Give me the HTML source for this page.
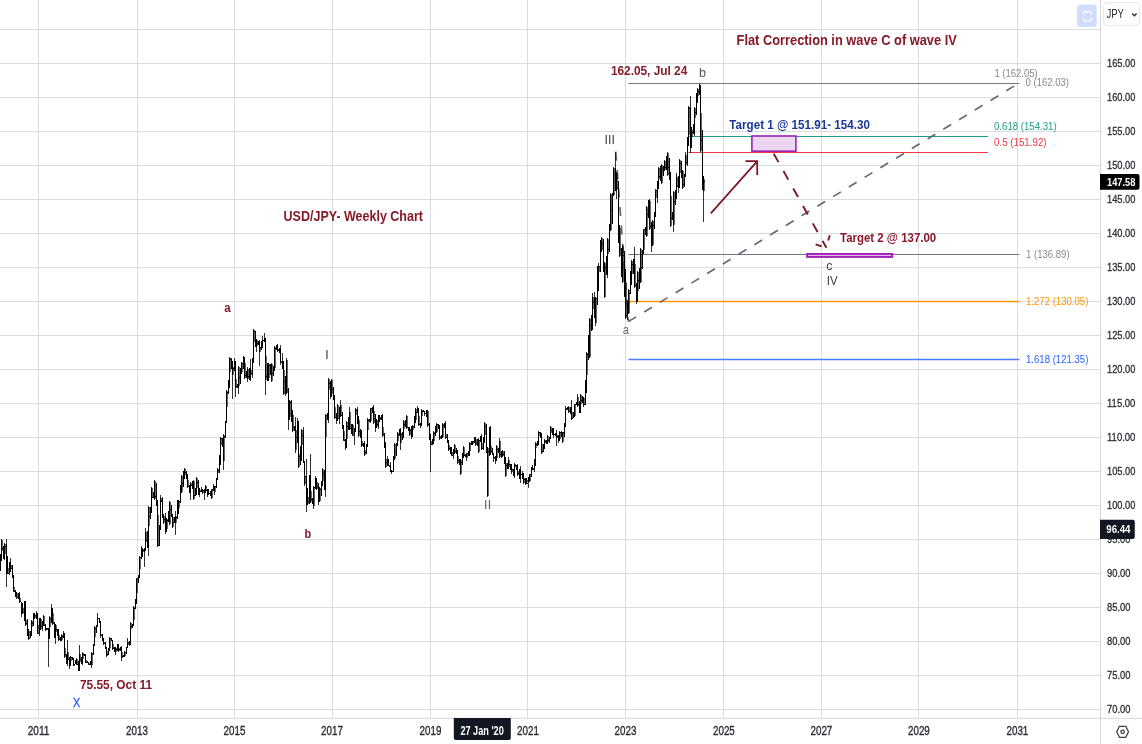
<!DOCTYPE html>
<html><head><meta charset="utf-8"><title>USD/JPY Weekly Chart</title>
<style>
html,body{margin:0;padding:0;background:#fff;}
body{width:1142px;height:744px;overflow:hidden;font-family:"Liberation Sans",sans-serif;}
svg{display:block;font-family:"Liberation Sans",sans-serif;will-change:transform;transform:translateZ(0);}
</style></head><body>
<svg width="1142" height="744" viewBox="0 0 1142 744">
<g>
<path d="M0 29.5H1100.5M0 63.5H1100.5M0 97.5H1100.5M0 131.5H1100.5M0 165.5H1100.5M0 199.5H1100.5M0 233.5H1100.5M0 267.5H1100.5M0 301.5H1100.5M0 335.5H1100.5M0 369.5H1100.5M0 403.5H1100.5M0 437.5H1100.5M0 471.5H1100.5M0 505.5H1100.5M0 539.5H1100.5M0 573.5H1100.5M0 607.5H1100.5M0 641.5H1100.5M0 675.5H1100.5M0 709.5H1100.5M38.5 0V718.3M137.5 0V718.3M234.5 0V718.3M332.5 0V718.3M430.5 0V718.3M527.5 0V718.3M625.5 0V718.3M723.5 0V718.3M821.5 0V718.3M918.5 0V718.3M1017.5 0V718.3" stroke="#dcdde2" stroke-width="1" fill="none"/>
<path d="M628.5 83.5H1019.5" stroke="#646778" stroke-width="0.9" fill="none"/>
<path d="M688.5 136.5H988" stroke="#1f9c88" stroke-width="1.0" fill="none"/>
<path d="M688.5 152.5H988" stroke="#f23645" stroke-width="1.0" fill="none"/>
<path d="M628.5 254.5H1019.5" stroke="#646778" stroke-width="0.9" fill="none"/>
<path d="M628.5 301.5H1019.5" stroke="#ff9800" stroke-width="1.3" fill="none"/>
<path d="M628.5 359.5H1019.5" stroke="#4a7dff" stroke-width="1.5" fill="none"/>
<path d="M615.8 151.6L628.5 321.7" stroke="#666978" stroke-width="1.7" stroke-dasharray="9.1 9.4" fill="none"/>
<path d="M628.4 321.6L1019.5 82.8" stroke="#666978" stroke-width="1.7" stroke-dasharray="9.1 9.35" fill="none"/>
<path d="M-0.5 570V573M2.5 540V551M5.5 544V554M8.5 568V573M11.5 565V569M14.5 587V591M17.5 593V597M20.5 598V602M23.5 608V613M26.5 620V625M29.5 631V639M32.5 621V627M35.5 616V618M38.5 625V633M41.5 619V629M44.5 616V625M47.5 629V630M50.5 617V627M53.5 613V624M56.5 625V632M59.5 635V640M62.5 635V640M65.5 648V657M68.5 652V660M71.5 657V661M74.5 665V666M77.5 659V664M80.5 654V662M83.5 653V659M86.5 660V662M89.5 663V664M92.5 653V665M95.5 627V637M98.5 618V619M101.5 634V635M104.5 642V644M107.5 651V656M110.5 638V648M113.5 644V649M116.5 648V652M119.5 648V651M122.5 652V658M125.5 652V656M128.5 642V645M131.5 623V629M134.5 607V620M137.5 579V593M140.5 557V569M143.5 549V552M146.5 532V542M149.5 507V526M152.5 488V498M155.5 481V499M158.5 515V546M161.5 498V502M164.5 516V523M167.5 519V529M170.5 502V524M173.5 517V527M176.5 516V523M179.5 501V508M182.5 476V492M185.5 469V475M188.5 480V487M191.5 483V486M194.5 481V499M197.5 478V488M200.5 490V491M203.5 490V493M206.5 486V491M209.5 493V494M212.5 490V498M215.5 487V492M218.5 469V473M221.5 438V445M224.5 435V461M227.5 391V407M230.5 358V372M233.5 367V375M236.5 379V388M239.5 367V386M242.5 363V372M245.5 363V378M248.5 369V379M251.5 370V375M254.5 330V342M257.5 340V346M260.5 348V352M263.5 340V341M266.5 356V380M269.5 364V378M272.5 364V381M275.5 347V368M278.5 349V351M281.5 361V362M284.5 370V394M287.5 360V393M290.5 401V417M293.5 415V431M296.5 430V450M299.5 454V467M302.5 430V445M305.5 476V484M308.5 497V504M311.5 491V502M314.5 487V506M317.5 482V489M320.5 488V501M323.5 469V481M326.5 415V437M329.5 379V390M332.5 380V394M335.5 407V418M338.5 405V419M341.5 405V416M344.5 431V440M347.5 422V439M350.5 412V429M353.5 425V435M356.5 409V415M359.5 420V436M362.5 441V446M365.5 450V455M368.5 419V430M371.5 409V421M374.5 411V423M377.5 420V427M380.5 417V420M383.5 427V436M386.5 459V467M389.5 465V466M392.5 471V472M395.5 444V459M398.5 433V441M401.5 433V443M404.5 421V429M407.5 416V428M410.5 429V435M413.5 426V430M416.5 409V420M419.5 416V425M422.5 410V416M425.5 413V414M428.5 411V426M431.5 441V445M434.5 432V441M437.5 424V432M440.5 436V439M443.5 424V437M446.5 434V438M449.5 445V450M452.5 452V455M455.5 445V453M458.5 456V463M461.5 460V474M464.5 447V455M467.5 454V458M470.5 443V451M473.5 442V444M476.5 439V445M479.5 441V452M482.5 443V449M485.5 423V435M488.5 448V496M491.5 446V453M494.5 458V459M497.5 446V458M500.5 441V457M503.5 451V456M506.5 463V476M509.5 460V467M512.5 470V472M515.5 464V467M518.5 471V475M521.5 474V475M524.5 478V483M527.5 480V482M530.5 475V481M533.5 468V469M536.5 443V448M539.5 432V436M542.5 444V453M545.5 440V443M548.5 436V442M551.5 427V433M554.5 434V435M557.5 435V438M560.5 432V439M563.5 433V442M566.5 409V410M569.5 407V412M572.5 412V419M575.5 405V416M578.5 397V406M581.5 395V404M584.5 398V405M587.5 353V375M590.5 319V357M593.5 297V309M596.5 298V323M599.5 266V272M602.5 238V250M605.5 263V297M608.5 239V254M611.5 194V230M614.5 168V195M617.5 173V188M620.5 228V256M623.5 246V282M626.5 283V318M629.5 290V313M632.5 261V274M635.5 264V287M638.5 272V291M641.5 249V282M644.5 230V250M647.5 207V236M650.5 201V229M653.5 221V245M656.5 191V198M659.5 168V179M662.5 165V183M665.5 161V170M668.5 153V175M671.5 196V226M674.5 192V225M677.5 177V187M680.5 160V173M683.5 171V188M686.5 155V165M689.5 107V135M692.5 130V137M695.5 108V118M698.5 89V96M701.5 113V151M704.5 179V191" stroke="#000" stroke-opacity="0.6" stroke-width="1.0" fill="none"/>
<path d="M-1.5 569V570M-1.5 573V574M1.5 539V540M4.5 543V544M4.5 559V560M6.5 539V544M6.5 574V587M9.5 573V575M10.5 558V562M13.5 591V592M16.5 597V599M19.5 592V593M19.5 602V603M21.5 614V617M24.5 601V602M25.5 625V626M27.5 619V620M28.5 639V640M31.5 620V621M36.5 611V613M37.5 633V634M39.5 633V636M42.5 629V631M43.5 615V616M45.5 630V631M48.5 639V667M49.5 616V617M51.5 604V608M52.5 624V625M55.5 638V644M58.5 640V641M61.5 634V635M63.5 631V633M64.5 657V658M67.5 640V652M67.5 664V666M69.5 666V669M70.5 656V657M76.5 658V659M76.5 664V665M79.5 645V654M82.5 652V653M82.5 664V665M85.5 662V663M88.5 664V665M91.5 652V653M91.5 665V668M94.5 626V627M97.5 613V618M100.5 635V638M103.5 644V645M106.5 656V657M109.5 637V638M112.5 649V650M115.5 652V655M118.5 651V652M121.5 646V647M121.5 658V661M124.5 651V652M127.5 638V642M129.5 645V646M130.5 622V623M133.5 606V607M136.5 578V579M139.5 556V557M141.5 546V548M144.5 552V567M145.5 528V532M148.5 506V507M148.5 548V556M151.5 487V488M154.5 480V481M154.5 499V500M157.5 546V547M160.5 495V498M162.5 497V498M163.5 523V524M165.5 513V516M165.5 532V534M169.5 501V502M169.5 524V525M172.5 527V528M175.5 511V516M175.5 523V535M181.5 475V476M184.5 468V469M187.5 487V488M190.5 482V483M190.5 493V500M193.5 480V481M193.5 499V500M196.5 477V478M199.5 495V497M201.5 487V489M202.5 493V494M204.5 493V500M205.5 485V486M207.5 495V497M211.5 489V490M211.5 498V499M213.5 484V486M214.5 492V495M217.5 468V469M220.5 437V438M223.5 434V435M223.5 461V470M226.5 390V391M229.5 357V358M232.5 375V399M234.5 358V361M235.5 388V397M238.5 366V367M238.5 388V394M241.5 362V363M243.5 356V357M244.5 378V379M247.5 367V369M247.5 379V382M250.5 359V368M250.5 380V381M252.5 375V378M253.5 329V330M256.5 347V352M259.5 340V341M259.5 352V366M262.5 336V340M264.5 333V338M265.5 380V395M271.5 363V364M271.5 381V382M274.5 346V347M277.5 344V345M277.5 351V352M280.5 345V348M280.5 362V365M282.5 353V361M283.5 394V395M285.5 394V396M286.5 358V360M288.5 420V430M291.5 400V401M292.5 431V432M295.5 417V426M295.5 450V453M297.5 418V421M298.5 467V468M301.5 429V430M303.5 427V430M304.5 484V486M306.5 459V476M306.5 505V512M310.5 454V475M313.5 486V487M313.5 506V509M315.5 476V478M316.5 489V490M318.5 502V505M322.5 468V469M325.5 414V415M325.5 490V497M328.5 378V379M328.5 420V423M330.5 397V399M331.5 379V380M334.5 418V419M336.5 421V424M337.5 404V405M339.5 419V424M340.5 400V405M343.5 440V441M345.5 448V450M346.5 421V422M349.5 407V412M352.5 435V436M354.5 435V445M355.5 408V409M357.5 407V409M358.5 436V437M361.5 446V447M364.5 441V443M364.5 455V456M367.5 418V419M370.5 408V409M370.5 422V423M373.5 405V407M373.5 423V424M375.5 428V432M378.5 427V429M382.5 414V415M382.5 436V437M385.5 467V468M387.5 456V459M390.5 462V465M391.5 472V474M394.5 443V444M397.5 432V433M400.5 428V429M400.5 443V450M403.5 420V421M406.5 415V416M406.5 428V429M409.5 435V436M411.5 437V439M412.5 425V426M415.5 408V409M417.5 406V408M418.5 425V426M420.5 426V428M421.5 409V410M424.5 414V416M427.5 426V427M430.5 445V472M433.5 431V432M436.5 423V424M439.5 439V440M442.5 423V424M445.5 421V423M445.5 438V439M448.5 450V451M451.5 455V456M453.5 455V459M454.5 444V445M457.5 463V464M460.5 474V475M463.5 446V447M466.5 453V454M466.5 458V461M469.5 442V443M475.5 445V446M478.5 438V439M478.5 452V453M481.5 434V436M481.5 449V450M483.5 449V450M484.5 422V423M487.5 496V497M490.5 426V427M493.5 459V462M495.5 461V464M496.5 445V446M499.5 438V441M499.5 457V458M501.5 457V458M502.5 450V451M505.5 476V477M508.5 457V460M511.5 472V474M514.5 463V464M514.5 476V478M517.5 464V465M517.5 475V476M520.5 466V469M520.5 479V483M522.5 471V473M523.5 483V484M525.5 484V485M528.5 482V488M529.5 474V475M532.5 465V467M534.5 469V472M535.5 442V443M538.5 431V432M541.5 453V454M544.5 439V440M547.5 435V436M549.5 442V443M550.5 426V427M553.5 435V438M556.5 430V433M556.5 438V446M558.5 441V443M559.5 431V432M561.5 431V432M562.5 442V443M565.5 406V409M568.5 406V407M568.5 412V413M571.5 400V407M571.5 419V420M574.5 404V405M577.5 394V397M577.5 406V407M580.5 394V395M580.5 412V413M583.5 405V407M586.5 352V353M589.5 318V319M592.5 293V297M594.5 292V297M595.5 323V326M598.5 263V266M601.5 237V238M604.5 297V298M607.5 238V239M607.5 275V278M610.5 193V194M613.5 167V168M615.5 152V168M616.5 191V199M619.5 256V257M622.5 245V246M622.5 282V283M625.5 318V319M627.5 318V320M628.5 289V290M631.5 260V261M634.5 247V259M634.5 287V288M636.5 302V304M637.5 271V272M640.5 248V249M643.5 229V230M646.5 206V207M646.5 236V237M649.5 199V200M649.5 229V230M651.5 246V252M652.5 220V221M655.5 189V191M657.5 198V203M658.5 167V168M661.5 164V165M661.5 183V184M664.5 160V161M667.5 152V153M667.5 175V176M670.5 226V227M673.5 191V192M673.5 225V232M676.5 173V177M678.5 188V193M679.5 159V160M682.5 188V189M685.5 152V155M687.5 165V166M688.5 106V107M690.5 96V107M690.5 148V153M694.5 107V108M694.5 134V136M697.5 88V89M699.5 84V85M700.5 151V152M703.5 191V222" stroke="#000" stroke-opacity="0.8" stroke-width="1.0" fill="none"/>
<path d="M-1.5 570V573M-3.0 569.5h1M-1.0 569.5h1M0.5 554V571M-1.0 569.5h1M1.0 556.5h1M1.5 540V561M0.0 556.5h1M2.0 548.5h1M3.5 546V559M2.0 548.5h1M4.0 558.5h1M4.5 544V559M3.0 558.5h1M5.0 546.5h1M6.5 544V574M5.0 546.5h1M7.0 562.5h1M7.5 556V574M6.0 562.5h1M8.0 573.5h1M9.5 562V573M8.0 573.5h1M10.0 569.5h1M10.5 562V572M9.0 569.5h1M11.0 568.5h1M12.5 565V578M11.0 568.5h1M13.0 575.5h1M13.5 575V591M12.0 575.5h1M14.0 591.5h1M15.5 590V597M14.0 591.5h1M16.0 596.5h1M16.5 592V597M15.0 596.5h1M17.0 597.5h1M18.5 593V599M17.0 597.5h1M19.0 597.5h1M19.5 593V602M18.0 597.5h1M20.0 601.5h1M21.5 602V614M20.0 601.5h1M22.0 605.5h1M22.5 603V614M21.0 605.5h1M23.0 612.5h1M24.5 602V621M23.0 612.5h1M25.0 601.5h1M25.5 602V625M24.0 601.5h1M26.0 623.5h1M27.5 620V636M26.0 623.5h1M28.0 631.5h1M28.5 629V639M27.0 631.5h1M29.0 638.5h1M30.5 631V638M29.0 638.5h1M31.0 632.5h1M31.5 621V636M30.0 632.5h1M32.0 623.5h1M33.5 613V626M32.0 623.5h1M34.0 613.5h1M34.5 613V619M33.0 613.5h1M35.0 615.5h1M36.5 613V619M35.0 615.5h1M37.0 614.5h1M37.5 613V633M36.0 614.5h1M38.0 633.5h1M39.5 618V633M38.0 633.5h1M40.0 620.5h1M40.5 618V630M39.0 620.5h1M41.0 626.5h1M42.5 621V629M41.0 626.5h1M43.0 621.5h1M43.5 616V626M42.0 621.5h1M44.0 625.5h1M45.5 624V630M44.0 625.5h1M46.0 629.5h1M46.5 628V630M45.0 629.5h1M47.0 628.5h1M48.5 628V639M47.0 628.5h1M49.0 637.5h1M49.5 617V639M48.0 637.5h1M50.0 619.5h1M51.5 608V623M50.0 619.5h1M52.0 608.5h1M52.5 608V624M51.0 608.5h1M53.0 623.5h1M54.5 622V638M53.0 623.5h1M55.0 633.5h1M55.5 624V638M54.0 633.5h1M56.0 629.5h1M57.5 629V636M56.0 629.5h1M58.0 634.5h1M58.5 629V640M57.0 634.5h1M59.0 639.5h1M60.5 637V641M59.0 639.5h1M61.0 639.5h1M61.5 635V641M60.0 639.5h1M62.0 636.5h1M63.5 633V638M62.0 636.5h1M64.0 637.5h1M64.5 633V657M63.0 637.5h1M65.0 654.5h1M66.5 654V664M65.0 654.5h1M67.0 662.5h1M67.5 652V664M66.0 662.5h1M68.0 659.5h1M69.5 657V666M68.0 659.5h1M70.0 665.5h1M70.5 657V666M69.0 665.5h1M71.0 657.5h1M72.5 657V660M71.0 657.5h1M73.0 659.5h1M73.5 658V666M72.0 659.5h1M74.0 664.5h1M75.5 660V664M74.0 664.5h1M76.0 661.5h1M76.5 659V664M75.0 661.5h1M77.0 664.5h1M78.5 661V671M77.0 664.5h1M79.0 669.5h1M79.5 654V671M78.0 669.5h1M80.0 659.5h1M81.5 657V664M80.0 659.5h1M82.0 662.5h1M82.5 653V664M81.0 662.5h1M83.0 654.5h1M84.5 654V656M83.0 654.5h1M85.0 655.5h1M85.5 654V662M84.0 655.5h1M86.0 662.5h1M87.5 661V663M86.0 662.5h1M88.0 662.5h1M88.5 662V664M87.0 662.5h1M89.0 664.5h1M90.5 661V665M89.0 664.5h1M91.0 663.5h1M91.5 653V665M90.0 663.5h1M92.0 653.5h1M93.5 644V655M92.0 653.5h1M94.0 644.5h1M94.5 627V646M93.0 644.5h1M95.0 628.5h1M96.5 625V633M95.0 628.5h1M97.0 625.5h1M97.5 618V627M96.0 625.5h1M98.0 618.5h1M99.5 618V623M98.0 618.5h1M100.0 622.5h1M100.5 621V635M99.0 622.5h1M101.0 635.5h1M102.5 634V641M101.0 635.5h1M103.0 639.5h1M103.5 638V644M102.0 639.5h1M104.0 643.5h1M105.5 642V649M104.0 643.5h1M106.0 648.5h1M106.5 647V656M105.0 648.5h1M107.0 654.5h1M108.5 648V655M107.0 654.5h1M109.0 649.5h1M109.5 638V651M108.0 649.5h1M110.0 638.5h1M111.5 638V641M110.0 638.5h1M112.0 640.5h1M112.5 640V649M111.0 640.5h1M113.0 648.5h1M114.5 647V652M113.0 648.5h1M115.0 651.5h1M115.5 647V652M114.0 651.5h1M116.0 649.5h1M117.5 644V651M116.0 649.5h1M118.0 644.5h1M118.5 644V651M117.0 644.5h1M119.0 649.5h1M120.5 647V651M119.0 649.5h1M121.0 648.5h1M121.5 647V658M120.0 648.5h1M122.0 656.5h1M123.5 655V657M122.0 656.5h1M124.0 655.5h1M124.5 652V657M123.0 655.5h1M125.0 652.5h1M126.5 647V654M125.0 652.5h1M127.0 647.5h1M127.5 642V648M126.0 647.5h1M128.0 642.5h1M129.5 641V645M128.0 642.5h1M130.0 644.5h1M130.5 623V645M129.0 644.5h1M131.0 626.5h1M132.5 624V628M131.0 626.5h1M133.0 624.5h1M133.5 607V626M132.0 624.5h1M134.0 608.5h1M135.5 599V609M134.0 608.5h1M136.0 600.5h1M136.5 579V604M135.0 600.5h1M137.0 578.5h1M138.5 575V583M137.0 578.5h1M139.0 576.5h1M139.5 557V578M138.0 576.5h1M140.0 557.5h1M141.5 548V559M140.0 557.5h1M142.0 554.5h1M142.5 548V557M141.0 554.5h1M143.0 550.5h1M144.5 549V552M143.0 550.5h1M145.0 548.5h1M145.5 532V551M144.0 548.5h1M146.0 540.5h1M147.5 531V548M146.0 540.5h1M148.0 544.5h1M148.5 507V548M147.0 544.5h1M149.0 516.5h1M150.5 507V519M149.0 516.5h1M151.0 509.5h1M151.5 488V513M150.0 509.5h1M152.0 497.5h1M153.5 492V498M152.0 497.5h1M154.0 494.5h1M154.5 481V499M153.0 494.5h1M155.0 496.5h1M156.5 483V506M155.0 496.5h1M157.0 501.5h1M157.5 500V546M156.0 501.5h1M158.0 545.5h1M159.5 525V546M158.0 545.5h1M160.0 526.5h1M160.5 498V530M159.0 526.5h1M161.0 501.5h1M162.5 498V518M161.0 501.5h1M163.0 515.5h1M163.5 514V523M162.0 515.5h1M164.0 519.5h1M165.5 516V532M164.0 519.5h1M166.0 531.5h1M166.5 518V532M165.0 531.5h1M167.0 520.5h1M168.5 511V522M167.0 520.5h1M169.0 517.5h1M169.5 502V524M168.0 517.5h1M170.0 509.5h1M171.5 505V517M170.0 509.5h1M172.0 515.5h1M172.5 514V527M171.0 515.5h1M173.0 522.5h1M174.5 517V523M173.0 522.5h1M175.0 519.5h1M175.5 516V523M174.0 519.5h1M176.0 517.5h1M177.5 500V519M176.0 517.5h1M178.0 506.5h1M178.5 500V514M177.0 506.5h1M179.0 501.5h1M180.5 485V503M179.0 501.5h1M181.0 488.5h1M181.5 476V493M180.0 488.5h1M182.0 483.5h1M183.5 471V487M182.0 483.5h1M184.0 474.5h1M184.5 469V479M183.0 474.5h1M185.0 472.5h1M186.5 471V479M185.0 472.5h1M187.0 477.5h1M187.5 474V487M186.0 477.5h1M188.0 486.5h1M189.5 485V493M188.0 486.5h1M190.0 491.5h1M190.5 483V493M189.0 491.5h1M191.0 485.5h1M192.5 481V489M191.0 485.5h1M193.0 482.5h1M193.5 481V499M192.0 482.5h1M194.0 495.5h1M195.5 488V496M194.0 495.5h1M196.0 492.5h1M196.5 478V495M195.0 492.5h1M197.0 482.5h1M198.5 480V495M197.0 482.5h1M199.0 494.5h1M199.5 488V495M198.0 494.5h1M200.0 491.5h1M201.5 489V492M200.0 491.5h1M202.0 490.5h1M202.5 489V493M201.0 490.5h1M203.0 490.5h1M204.5 489V493M203.0 490.5h1M205.0 492.5h1M205.5 486V493M204.0 492.5h1M206.0 490.5h1M207.5 489V495M206.0 490.5h1M208.0 492.5h1M208.5 489V495M207.0 492.5h1M209.0 493.5h1M210.5 491V496M209.0 493.5h1M211.0 495.5h1M211.5 490V498M210.0 495.5h1M212.0 489.5h1M213.5 486V491M212.0 489.5h1M214.0 487.5h1M214.5 486V492M213.0 487.5h1M215.0 486.5h1M216.5 478V488M215.0 486.5h1M217.0 478.5h1M217.5 469V480M216.0 478.5h1M218.0 470.5h1M219.5 455V473M218.0 470.5h1M220.0 460.5h1M220.5 438V465M219.0 460.5h1M221.0 438.5h1M222.5 438V447M221.0 438.5h1M223.0 446.5h1M223.5 435V461M222.0 446.5h1M224.0 436.5h1M225.5 421V438M224.0 436.5h1M226.0 421.5h1M226.5 391V423M225.0 421.5h1M227.0 392.5h1M228.5 380V394M227.0 392.5h1M229.0 384.5h1M229.5 358V388M228.0 384.5h1M230.0 359.5h1M231.5 358V369M230.0 359.5h1M232.0 365.5h1M232.5 361V375M231.0 365.5h1M233.0 368.5h1M234.5 361V371M233.0 368.5h1M235.0 365.5h1M235.5 361V388M234.0 365.5h1M236.0 386.5h1M237.5 384V388M236.0 386.5h1M238.0 386.5h1M238.5 367V388M237.0 386.5h1M239.0 377.5h1M240.5 368V384M239.0 377.5h1M241.0 371.5h1M241.5 363V374M240.0 371.5h1M242.0 363.5h1M243.5 357V369M242.0 363.5h1M244.0 359.5h1M244.5 357V378M243.0 359.5h1M245.0 375.5h1M246.5 371V378M245.0 375.5h1M247.0 374.5h1M247.5 369V379M246.0 374.5h1M248.0 376.5h1M249.5 368V380M248.0 376.5h1M250.0 371.5h1M250.5 368V380M249.0 371.5h1M251.0 373.5h1M252.5 358V375M251.0 373.5h1M253.0 358.5h1M253.5 330V363M252.0 358.5h1M254.0 331.5h1M255.5 331V347M254.0 331.5h1M256.0 346.5h1M256.5 339V347M255.0 346.5h1M257.0 343.5h1M258.5 341V345M257.0 343.5h1M259.0 343.5h1M259.5 341V352M258.0 343.5h1M260.0 347.5h1M261.5 341V350M260.0 347.5h1M262.0 343.5h1M262.5 340V348M261.0 343.5h1M263.0 340.5h1M264.5 338V342M263.0 340.5h1M265.0 339.5h1M265.5 338V380M264.0 339.5h1M266.0 376.5h1M267.5 363V381M266.0 376.5h1M268.0 366.5h1M268.5 363V381M267.0 366.5h1M269.0 365.5h1M270.5 364V375M269.0 365.5h1M271.0 371.5h1M271.5 364V381M270.0 371.5h1M272.0 373.5h1M273.5 366V376M272.0 373.5h1M274.0 367.5h1M274.5 347V371M273.0 367.5h1M275.0 348.5h1M276.5 345V350M275.0 348.5h1M277.0 348.5h1M277.5 345V351M276.0 348.5h1M278.0 350.5h1M279.5 348V353M278.0 350.5h1M280.0 348.5h1M280.5 348V362M279.0 348.5h1M281.0 362.5h1M282.5 361V369M281.0 362.5h1M283.0 367.5h1M283.5 361V394M282.0 367.5h1M284.0 381.5h1M285.5 376V394M284.0 381.5h1M286.0 377.5h1M286.5 360V394M285.0 377.5h1M287.0 390.5h1M288.5 388V420M287.0 390.5h1M289.0 415.5h1M289.5 400V420M288.0 415.5h1M290.0 402.5h1M291.5 401V422M290.0 402.5h1M292.0 411.5h1M292.5 410V431M291.0 411.5h1M293.0 427.5h1M294.5 426V431M293.0 427.5h1M295.0 428.5h1M295.5 426V450M294.0 428.5h1M296.0 437.5h1M297.5 421V443M296.0 437.5h1M298.0 424.5h1M298.5 421V467M297.0 424.5h1M299.0 456.5h1M300.5 446V465M299.0 456.5h1M301.0 450.5h1M301.5 430V461M300.0 450.5h1M302.0 435.5h1M303.5 430V463M302.0 435.5h1M304.0 461.5h1M304.5 461V484M303.0 461.5h1M305.0 476.5h1M306.5 476V505M305.0 476.5h1M307.0 490.5h1M307.5 488V505M306.0 490.5h1M308.0 501.5h1M309.5 475V504M308.0 501.5h1M310.0 478.5h1M310.5 475V503M309.0 478.5h1M311.0 499.5h1M312.5 498V504M311.0 499.5h1M313.0 499.5h1M313.5 487V506M312.0 499.5h1M314.0 487.5h1M315.5 478V489M314.0 487.5h1M316.0 478.5h1M316.5 478V489M315.0 478.5h1M317.0 486.5h1M318.5 483V502M317.0 486.5h1M319.0 498.5h1M319.5 487V502M318.0 498.5h1M320.0 489.5h1M321.5 481V496M320.0 489.5h1M322.0 484.5h1M322.5 469V486M321.0 484.5h1M323.0 473.5h1M324.5 470V490M323.0 473.5h1M325.0 484.5h1M325.5 415V490M324.0 484.5h1M326.0 415.5h1M327.5 413V420M326.0 415.5h1M328.0 415.5h1M328.5 379V420M327.0 415.5h1M329.0 383.5h1M330.5 381V397M329.0 383.5h1M331.0 393.5h1M331.5 380V397M330.0 393.5h1M332.0 389.5h1M333.5 387V400M332.0 389.5h1M334.0 395.5h1M334.5 395V418M333.0 395.5h1M335.0 417.5h1M336.5 413V421M335.0 417.5h1M337.0 419.5h1M337.5 405V421M336.0 419.5h1M338.0 418.5h1M339.5 407V419M338.0 418.5h1M340.0 410.5h1M340.5 405V417M339.0 410.5h1M341.0 415.5h1M342.5 412V429M341.0 415.5h1M343.0 428.5h1M343.5 425V440M342.0 428.5h1M344.0 440.5h1M345.5 439V448M344.0 440.5h1M346.0 446.5h1M346.5 422V448M345.0 446.5h1M347.0 426.5h1M348.5 417V430M347.0 426.5h1M349.0 420.5h1M349.5 412V430M348.0 420.5h1M350.0 428.5h1M351.5 424V434M350.0 428.5h1M352.0 431.5h1M352.5 424V435M351.0 431.5h1M353.0 435.5h1M354.5 428V435M353.0 435.5h1M355.0 431.5h1M355.5 409V432M354.0 431.5h1M356.0 410.5h1M357.5 409V424M356.0 410.5h1M358.0 420.5h1M358.5 416V436M357.0 420.5h1M359.0 431.5h1M360.5 429V438M359.0 431.5h1M361.0 435.5h1M361.5 430V446M360.0 435.5h1M362.0 444.5h1M363.5 443V447M362.0 444.5h1M364.0 445.5h1M364.5 443V455M363.0 445.5h1M365.0 452.5h1M366.5 444V454M365.0 452.5h1M367.0 445.5h1M367.5 419V447M366.0 445.5h1M368.0 420.5h1M369.5 419V422M368.0 420.5h1M370.0 420.5h1M370.5 409V422M369.0 420.5h1M371.0 408.5h1M372.5 407V413M371.0 408.5h1M373.0 409.5h1M373.5 407V423M372.0 409.5h1M374.0 418.5h1M375.5 414V428M374.0 418.5h1M376.0 427.5h1M376.5 419V428M375.0 427.5h1M377.0 424.5h1M378.5 415V427M377.0 424.5h1M379.0 419.5h1M379.5 415V422M378.0 419.5h1M380.0 418.5h1M381.5 415V420M380.0 418.5h1M382.0 416.5h1M382.5 415V436M381.0 416.5h1M383.0 434.5h1M384.5 433V448M383.0 434.5h1M385.0 446.5h1M385.5 442V467M384.0 446.5h1M386.0 462.5h1M387.5 459V466M386.0 462.5h1M388.0 460.5h1M388.5 459V466M387.0 460.5h1M389.0 466.5h1M390.5 465V472M389.0 466.5h1M391.0 471.5h1M391.5 470V472M390.0 471.5h1M392.0 471.5h1M393.5 456V472M392.0 471.5h1M394.0 457.5h1M394.5 444V460M393.0 457.5h1M395.0 451.5h1M396.5 443V456M395.0 451.5h1M397.0 444.5h1M397.5 433V446M396.0 444.5h1M398.0 434.5h1M399.5 429V436M398.0 434.5h1M400.0 431.5h1M400.5 429V443M399.0 431.5h1M401.0 434.5h1M402.5 432V440M401.0 434.5h1M403.0 436.5h1M403.5 421V438M402.0 436.5h1M404.0 424.5h1M405.5 420V427M404.0 424.5h1M406.0 421.5h1M406.5 416V428M405.0 421.5h1M407.0 427.5h1M408.5 427V431M407.0 427.5h1M409.0 429.5h1M409.5 427V435M408.0 429.5h1M410.0 430.5h1M411.5 426V437M410.0 430.5h1M412.0 433.5h1M412.5 426V437M411.0 433.5h1M413.0 426.5h1M414.5 416V428M413.0 426.5h1M415.0 419.5h1M415.5 409V423M414.0 419.5h1M416.0 412.5h1M417.5 408V413M416.0 412.5h1M418.0 412.5h1M418.5 408V425M417.0 412.5h1M419.0 424.5h1M420.5 423V426M419.0 424.5h1M421.0 424.5h1M421.5 410V426M420.0 424.5h1M422.0 411.5h1M423.5 410V412M422.0 411.5h1M424.0 411.5h1M424.5 411V414M423.0 411.5h1M425.0 413.5h1M426.5 410V417M425.0 413.5h1M427.0 411.5h1M427.5 410V426M426.0 411.5h1M428.0 424.5h1M429.5 423V440M428.0 424.5h1M430.0 435.5h1M430.5 434V445M429.0 435.5h1M431.0 444.5h1M432.5 439V445M431.0 444.5h1M433.0 440.5h1M433.5 432V444M432.0 440.5h1M434.0 433.5h1M435.5 426V436M434.0 433.5h1M436.0 429.5h1M436.5 424V433M435.0 429.5h1M437.0 424.5h1M438.5 424V429M437.0 424.5h1M439.0 427.5h1M439.5 425V439M438.0 427.5h1M440.0 437.5h1M441.5 435V439M440.0 437.5h1M442.0 436.5h1M442.5 424V438M441.0 436.5h1M443.0 425.5h1M444.5 423V428M443.0 425.5h1M445.0 424.5h1M445.5 423V438M444.0 424.5h1M446.0 437.5h1M447.5 434V443M446.0 437.5h1M448.0 441.5h1M448.5 440V450M447.0 441.5h1M449.0 448.5h1M450.5 447V454M449.0 448.5h1M451.0 451.5h1M451.5 447V455M450.0 451.5h1M452.0 455.5h1M453.5 449V455M452.0 455.5h1M454.0 451.5h1M454.5 445V454M453.0 451.5h1M455.0 451.5h1M456.5 448V454M455.0 451.5h1M457.0 451.5h1M457.5 450V463M456.0 451.5h1M458.0 460.5h1M459.5 459V465M458.0 460.5h1M460.0 462.5h1M460.5 459V474M459.0 462.5h1M461.0 462.5h1M462.5 453V465M461.0 462.5h1M463.0 456.5h1M463.5 447V458M462.0 456.5h1M464.0 455.5h1M465.5 454V457M464.0 455.5h1M466.0 456.5h1M466.5 454V458M465.0 456.5h1M467.0 453.5h1M468.5 451V456M467.0 453.5h1M469.0 455.5h1M469.5 443V456M468.0 455.5h1M470.0 443.5h1M471.5 441V445M470.0 443.5h1M472.0 441.5h1M472.5 441V445M471.0 441.5h1M473.0 441.5h1M474.5 437V443M473.0 441.5h1M475.0 440.5h1M475.5 437V445M474.0 440.5h1M476.0 443.5h1M477.5 439V446M476.0 443.5h1M478.0 441.5h1M478.5 439V452M477.0 441.5h1M479.0 440.5h1M480.5 436V442M479.0 440.5h1M481.0 436.5h1M481.5 436V449M480.0 436.5h1M482.0 448.5h1M483.5 437V449M482.0 448.5h1M484.0 439.5h1M484.5 423V443M483.0 439.5h1M485.0 426.5h1M486.5 424V453M485.0 426.5h1M487.0 451.5h1M487.5 447V496M486.0 451.5h1M488.0 451.5h1M489.5 427V456M488.0 451.5h1M490.0 431.5h1M490.5 427V455M489.0 431.5h1M491.0 451.5h1M492.5 448V455M491.0 451.5h1M493.0 454.5h1M493.5 453V459M492.0 454.5h1M494.0 457.5h1M495.5 456V461M494.0 457.5h1M496.0 460.5h1M496.5 446V461M495.0 460.5h1M497.0 449.5h1M498.5 448V453M497.0 449.5h1M499.0 449.5h1M499.5 441V457M498.0 449.5h1M500.0 454.5h1M501.5 451V457M500.0 454.5h1M502.0 453.5h1M502.5 451V457M501.0 453.5h1M503.0 454.5h1M504.5 451V464M503.0 454.5h1M505.0 460.5h1M505.5 457V476M504.0 460.5h1M506.0 465.5h1M507.5 463V469M506.0 465.5h1M508.0 467.5h1M508.5 460V469M507.0 467.5h1M509.0 464.5h1M510.5 464V470M509.0 464.5h1M511.0 465.5h1M511.5 464V472M510.0 465.5h1M512.0 469.5h1M513.5 469V476M512.0 469.5h1M514.0 473.5h1M514.5 464V476M513.0 473.5h1M515.0 465.5h1M516.5 465V470M515.0 465.5h1M517.0 467.5h1M517.5 465V475M516.0 467.5h1M518.0 473.5h1M519.5 469V479M518.0 473.5h1M520.0 475.5h1M520.5 469V479M519.0 475.5h1M521.0 474.5h1M522.5 473V479M521.0 474.5h1M523.0 476.5h1M523.5 473V483M522.0 476.5h1M524.0 479.5h1M525.5 478V484M524.0 479.5h1M526.0 482.5h1M526.5 478V484M525.0 482.5h1M527.0 483.5h1M528.5 477V482M527.0 483.5h1M529.0 478.5h1M529.5 475V482M528.0 478.5h1M530.0 474.5h1M531.5 467V477M530.0 474.5h1M532.0 467.5h1M532.5 467V470M531.0 467.5h1M533.0 469.5h1M534.5 459V469M533.0 469.5h1M535.0 462.5h1M535.5 443V466M534.0 462.5h1M536.0 444.5h1M537.5 441V446M536.0 444.5h1M538.0 441.5h1M538.5 432V445M537.0 441.5h1M539.0 432.5h1M540.5 432V438M539.0 432.5h1M541.0 435.5h1M541.5 433V453M540.0 435.5h1M542.0 451.5h1M543.5 444V452M542.0 451.5h1M544.0 447.5h1M544.5 440V449M543.0 447.5h1M545.0 441.5h1M546.5 440V444M545.0 441.5h1M547.0 442.5h1M547.5 436V444M546.0 442.5h1M548.0 440.5h1M549.5 437V442M548.0 440.5h1M550.0 437.5h1M550.5 427V439M549.0 437.5h1M551.0 430.5h1M552.5 428V435M551.0 430.5h1M553.0 431.5h1M553.5 428V435M552.0 431.5h1M554.0 434.5h1M555.5 433V436M554.0 434.5h1M556.0 433.5h1M556.5 433V438M555.0 433.5h1M557.0 436.5h1M558.5 435V441M557.0 436.5h1M559.0 438.5h1M559.5 432V441M558.0 438.5h1M560.0 432.5h1M561.5 432V437M560.0 432.5h1M562.0 435.5h1M562.5 432V442M561.0 435.5h1M563.0 432.5h1M564.5 423V437M563.0 432.5h1M565.0 423.5h1M565.5 409V427M564.0 423.5h1M566.0 408.5h1M567.5 407V410M566.0 408.5h1M568.0 409.5h1M568.5 407V412M567.0 409.5h1M569.0 411.5h1M570.5 407V414M569.0 411.5h1M571.0 413.5h1M571.5 407V419M570.0 413.5h1M572.0 418.5h1M573.5 412V418M572.0 418.5h1M574.0 413.5h1M574.5 405V417M573.0 413.5h1M575.0 404.5h1M576.5 402V405M575.0 404.5h1M577.0 402.5h1M577.5 397V406M576.0 402.5h1M578.0 404.5h1M579.5 401V412M578.0 404.5h1M580.0 412.5h1M580.5 395V412M579.0 412.5h1M581.0 400.5h1M582.5 396V403M581.0 400.5h1M583.0 397.5h1M583.5 397V405M582.0 397.5h1M584.0 404.5h1M585.5 380V405M584.0 404.5h1M586.0 387.5h1M586.5 353V393M585.0 387.5h1M587.0 354.5h1M588.5 335V360M587.0 354.5h1M589.0 352.5h1M589.5 319V358M588.0 352.5h1M590.0 325.5h1M591.5 315V331M590.0 325.5h1M592.0 318.5h1M592.5 297V330M591.0 318.5h1M593.0 302.5h1M594.5 297V318M593.0 302.5h1M595.0 306.5h1M595.5 297V323M594.0 306.5h1M596.0 298.5h1M597.5 266V305M596.0 298.5h1M598.0 271.5h1M598.5 266V291M597.0 271.5h1M599.0 266.5h1M600.5 240V272M599.0 266.5h1M601.0 241.5h1M601.5 238V252M600.0 241.5h1M602.0 243.5h1M603.5 239V272M602.0 243.5h1M604.0 268.5h1M604.5 262V297M603.0 268.5h1M605.0 267.5h1M606.5 256V275M605.0 267.5h1M607.0 269.5h1M607.5 239V275M606.0 269.5h1M608.0 249.5h1M609.5 224V252M608.0 249.5h1M610.0 226.5h1M610.5 194V231M609.0 226.5h1M611.0 210.5h1M612.5 193V224M611.0 210.5h1M613.0 193.5h1M613.5 168V196M612.0 193.5h1M614.0 174.5h1M615.5 168V191M614.0 174.5h1M616.0 180.5h1M616.5 172V191M615.0 180.5h1M617.0 188.5h1M618.5 181V243M617.0 188.5h1M619.0 241.5h1M619.5 225V256M618.0 241.5h1M620.0 249.5h1M621.5 248V277M620.0 249.5h1M622.0 271.5h1M622.5 246V282M621.0 271.5h1M623.0 255.5h1M624.5 251V297M623.0 255.5h1M625.0 281.5h1M625.5 269V318M624.0 281.5h1M626.0 315.5h1M627.5 301V318M626.0 315.5h1M628.0 303.5h1M628.5 290V314M627.0 303.5h1M629.0 293.5h1M630.5 271V294M629.0 293.5h1M631.0 283.5h1M631.5 261V285M630.0 283.5h1M632.0 264.5h1M633.5 259V274M632.0 264.5h1M634.0 261.5h1M634.5 259V287M633.0 261.5h1M635.0 285.5h1M636.5 283V302M635.0 285.5h1M637.0 296.5h1M637.5 272V302M636.0 296.5h1M638.0 280.5h1M639.5 268V289M638.0 280.5h1M640.0 275.5h1M640.5 249V283M639.0 275.5h1M641.0 267.5h1M642.5 250V269M641.0 267.5h1M643.0 251.5h1M643.5 230V254M642.0 251.5h1M644.0 229.5h1M645.5 227V235M644.0 229.5h1M646.0 233.5h1M646.5 207V236M645.0 233.5h1M647.0 214.5h1M648.5 200V218M647.0 214.5h1M649.0 211.5h1M649.5 200V229M648.0 211.5h1M650.0 226.5h1M651.5 222V246M650.0 226.5h1M652.0 241.5h1M652.5 221V246M651.0 241.5h1M653.0 225.5h1M654.5 212V229M653.0 225.5h1M655.0 215.5h1M655.5 191V217M654.0 215.5h1M656.0 190.5h1M657.5 181V198M656.0 190.5h1M658.0 185.5h1M658.5 168V189M657.0 185.5h1M659.0 176.5h1M660.5 166V181M659.0 176.5h1M661.0 175.5h1M661.5 165V183M660.0 175.5h1M662.0 169.5h1M663.5 166V176M662.0 169.5h1M664.0 167.5h1M664.5 161V171M663.0 167.5h1M665.0 167.5h1M666.5 156V170M665.0 167.5h1M667.0 159.5h1M667.5 153V175M666.0 159.5h1M668.0 167.5h1M669.5 158V180M668.0 167.5h1M670.0 178.5h1M670.5 172V226M669.0 178.5h1M671.0 218.5h1M672.5 212V220M671.0 218.5h1M673.0 219.5h1M673.5 192V225M672.0 219.5h1M674.0 201.5h1M675.5 190V205M674.0 201.5h1M676.0 194.5h1M676.5 177V199M675.0 194.5h1M677.0 186.5h1M678.5 176V188M677.0 186.5h1M679.0 176.5h1M679.5 160V188M678.0 176.5h1M680.0 163.5h1M681.5 161V178M680.0 163.5h1M682.0 175.5h1M682.5 170V188M681.0 175.5h1M683.0 184.5h1M684.5 174V187M683.0 184.5h1M685.0 175.5h1M685.5 155V177M684.0 175.5h1M686.0 162.5h1M687.5 137V165M686.0 162.5h1M688.0 142.5h1M688.5 107V146M687.0 142.5h1M689.0 108.5h1M690.5 107V148M689.0 108.5h1M691.0 144.5h1M691.5 127V148M690.0 144.5h1M692.0 132.5h1M693.5 124V134M692.0 132.5h1M694.0 128.5h1M694.5 108V134M693.0 128.5h1M695.0 112.5h1M696.5 93V115M695.0 112.5h1M697.0 100.5h1M697.5 89V103M696.0 100.5h1M698.0 91.5h1M699.5 85V95M698.0 91.5h1M700.0 92.5h1M700.5 85V151M699.0 92.5h1M701.0 140.5h1M702.5 130V190M701.0 140.5h1M703.0 189.5h1M703.5 176V191M702.0 189.5h1M704.0 181.5h1" stroke="#000" stroke-width="1.0" fill="none"/>
<rect x="751.9" y="136" width="44" height="15.2" fill="#ecd6f1" stroke="#9a24b0" stroke-width="1.6"/>
<rect x="807.1" y="253.95" width="85.2" height="3.0" fill="#e9b8ef" stroke="#a021b8" stroke-width="1.9"/>
<path d="M710.8 213.3L757.3 161.2M745.4 161.1H758.1M757.2 160.3V174.9" stroke="#7d1627" stroke-width="1.75" fill="none"/>
<path d="M773.7 153.6L826.4 247.7" stroke="#7d1627" stroke-width="1.9" stroke-dasharray="9.8 10.2" fill="none"/>
<path d="M815.6 244.3L821.6 246.4M829.8 235.2L828.2 240.6" stroke="#7d1627" stroke-width="1.9" fill="none"/>
<text x="736.6" y="44.6" font-size="14.4" fill="#861a2b" textLength="220.2" lengthAdjust="spacingAndGlyphs" font-weight="700">Flat Correction in wave C of wave IV</text>
<text x="610.9" y="74.7" font-size="13.2" fill="#861a2b" textLength="76.4" lengthAdjust="spacingAndGlyphs" font-weight="700">162.05, Jul 24</text>
<text x="283.6" y="220.5" font-size="14.2" fill="#861a2b" textLength="139.4" lengthAdjust="spacingAndGlyphs" font-weight="700">USD/JPY- Weekly Chart</text>
<text x="729.3" y="129.0" font-size="13.4" fill="#1b3799" textLength="140.6" lengthAdjust="spacingAndGlyphs" font-weight="700">Target 1 @ 151.91- 154.30</text>
<text x="840.0" y="242.0" font-size="13.2" fill="#861a2b" textLength="96.2" lengthAdjust="spacingAndGlyphs" font-weight="700">Target 2 @ 137.00</text>
<text x="80.0" y="688.7" font-size="13.2" fill="#861a2b" textLength="72.0" lengthAdjust="spacingAndGlyphs" font-weight="700">75.55, Oct 11</text>
<text x="224.3" y="311.8" font-size="13.0" fill="#861a2b" textLength="6.4" lengthAdjust="spacingAndGlyphs" font-weight="700">a</text>
<text x="304.5" y="538.1" font-size="13.5" fill="#861a2b" textLength="6.7" lengthAdjust="spacingAndGlyphs" font-weight="700">b</text>
<text x="72.9" y="706.8" font-size="13.2" fill="#2962ff" textLength="7.2" lengthAdjust="spacingAndGlyphs" stroke="#2962ff" stroke-width="0.4">X</text>
<text x="699.1" y="77.0" font-size="12.5" fill="#4f525d">b</text>
<text x="604.6" y="144.4" font-size="12.4" fill="#3a3d47">III</text>
<text x="325.3" y="359.4" font-size="12.4" fill="#3a3d47">I</text>
<text x="483.9" y="508.9" font-size="12.4" fill="#5d606b" textLength="7.3" lengthAdjust="spacing">II</text>
<text x="622.8" y="333.8" font-size="12.4" fill="#6a6d78" textLength="6.3" lengthAdjust="spacingAndGlyphs">a</text>
<text x="826.2" y="269.7" font-size="12.4" fill="#3a3d47">c</text>
<text x="826.8" y="284.8" font-size="12.6" fill="#3a3d47" textLength="10.8" lengthAdjust="spacingAndGlyphs">IV</text>
<text x="994.4" y="77.0" font-size="11.6" fill="#868993" textLength="43.2" lengthAdjust="spacingAndGlyphs">1 (162.05)</text>
<text x="1025.6" y="86.4" font-size="11.6" fill="#868993" textLength="43.4" lengthAdjust="spacingAndGlyphs">0 (162.03)</text>
<text x="994.0" y="130.2" font-size="11.6" fill="#22a08c" textLength="62.6" lengthAdjust="spacingAndGlyphs">0.618 (154.31)</text>
<text x="994.0" y="145.8" font-size="11.6" fill="#f23645" textLength="52.6" lengthAdjust="spacingAndGlyphs">0.5 (151.92)</text>
<text x="1026.0" y="258.0" font-size="11.6" fill="#868993" textLength="43.6" lengthAdjust="spacingAndGlyphs">1 (136.89)</text>
<text x="1026.0" y="305.2" font-size="11.6" fill="#ff9800" textLength="62.4" lengthAdjust="spacingAndGlyphs">1.272 (130.05)</text>
<text x="1026.0" y="363.4" font-size="11.6" fill="#2962ff" textLength="62.4" lengthAdjust="spacingAndGlyphs">1.618 (121.35)</text>
<path d="M1100.5 0V744M0 718.3H1142" stroke="#d5d6da" stroke-width="1" fill="none"/>
<text x="1107.0" y="67.2" font-size="11.6" fill="#2a2c35" textLength="28.4" lengthAdjust="spacingAndGlyphs" stroke="#2a2c35" stroke-width="0.3">165.00</text>
<text x="1107.0" y="101.2" font-size="11.6" fill="#2a2c35" textLength="28.4" lengthAdjust="spacingAndGlyphs" stroke="#2a2c35" stroke-width="0.3">160.00</text>
<text x="1107.0" y="135.2" font-size="11.6" fill="#2a2c35" textLength="28.4" lengthAdjust="spacingAndGlyphs" stroke="#2a2c35" stroke-width="0.3">155.00</text>
<text x="1107.0" y="169.2" font-size="11.6" fill="#2a2c35" textLength="28.4" lengthAdjust="spacingAndGlyphs" stroke="#2a2c35" stroke-width="0.3">150.00</text>
<text x="1107.0" y="203.2" font-size="11.6" fill="#2a2c35" textLength="28.4" lengthAdjust="spacingAndGlyphs" stroke="#2a2c35" stroke-width="0.3">145.00</text>
<text x="1107.0" y="237.2" font-size="11.6" fill="#2a2c35" textLength="28.4" lengthAdjust="spacingAndGlyphs" stroke="#2a2c35" stroke-width="0.3">140.00</text>
<text x="1107.0" y="271.2" font-size="11.6" fill="#2a2c35" textLength="28.4" lengthAdjust="spacingAndGlyphs" stroke="#2a2c35" stroke-width="0.3">135.00</text>
<text x="1107.0" y="305.2" font-size="11.6" fill="#2a2c35" textLength="28.4" lengthAdjust="spacingAndGlyphs" stroke="#2a2c35" stroke-width="0.3">130.00</text>
<text x="1107.0" y="339.2" font-size="11.6" fill="#2a2c35" textLength="28.4" lengthAdjust="spacingAndGlyphs" stroke="#2a2c35" stroke-width="0.3">125.00</text>
<text x="1107.0" y="373.2" font-size="11.6" fill="#2a2c35" textLength="28.4" lengthAdjust="spacingAndGlyphs" stroke="#2a2c35" stroke-width="0.3">120.00</text>
<text x="1107.0" y="407.2" font-size="11.6" fill="#2a2c35" textLength="28.4" lengthAdjust="spacingAndGlyphs" stroke="#2a2c35" stroke-width="0.3">115.00</text>
<text x="1107.0" y="441.2" font-size="11.6" fill="#2a2c35" textLength="28.4" lengthAdjust="spacingAndGlyphs" stroke="#2a2c35" stroke-width="0.3">110.00</text>
<text x="1107.0" y="475.2" font-size="11.6" fill="#2a2c35" textLength="28.4" lengthAdjust="spacingAndGlyphs" stroke="#2a2c35" stroke-width="0.3">105.00</text>
<text x="1107.0" y="509.2" font-size="11.6" fill="#2a2c35" textLength="28.4" lengthAdjust="spacingAndGlyphs" stroke="#2a2c35" stroke-width="0.3">100.00</text>
<text x="1107.0" y="543.2" font-size="11.6" fill="#2a2c35" textLength="23.4" lengthAdjust="spacingAndGlyphs" stroke="#2a2c35" stroke-width="0.3">95.00</text>
<text x="1107.0" y="577.2" font-size="11.6" fill="#2a2c35" textLength="23.4" lengthAdjust="spacingAndGlyphs" stroke="#2a2c35" stroke-width="0.3">90.00</text>
<text x="1107.0" y="611.2" font-size="11.6" fill="#2a2c35" textLength="23.4" lengthAdjust="spacingAndGlyphs" stroke="#2a2c35" stroke-width="0.3">85.00</text>
<text x="1107.0" y="645.2" font-size="11.6" fill="#2a2c35" textLength="23.4" lengthAdjust="spacingAndGlyphs" stroke="#2a2c35" stroke-width="0.3">80.00</text>
<text x="1107.0" y="679.2" font-size="11.6" fill="#2a2c35" textLength="23.4" lengthAdjust="spacingAndGlyphs" stroke="#2a2c35" stroke-width="0.3">75.00</text>
<text x="1107.0" y="713.2" font-size="11.6" fill="#2a2c35" textLength="23.4" lengthAdjust="spacingAndGlyphs" stroke="#2a2c35" stroke-width="0.3">70.00</text>
<path d="M1100 174h37.5a2 2 0 0 1 2 2v11.8a2 2 0 0 1-2 2H1100z" fill="#000"/>
<text x="1107.0" y="186.1" font-size="11.6" fill="#fff" textLength="28.4" lengthAdjust="spacingAndGlyphs" font-weight="700">147.58</text>
<path d="M1100 519.8h32.8a2 2 0 0 1 2 2v15.2a2 2 0 0 1-2 2H1100z" fill="#131722"/>
<text x="1106.3" y="533.4" font-size="11.6" fill="#fff" textLength="24.2" lengthAdjust="spacingAndGlyphs" font-weight="700">96.44</text>
<text x="27.7" y="735.2" font-size="12.2" fill="#2a2c35" textLength="21.8" lengthAdjust="spacingAndGlyphs" stroke="#2a2c35" stroke-width="0.35">2011</text>
<text x="126.1" y="735.2" font-size="12.2" fill="#2a2c35" textLength="21.8" lengthAdjust="spacingAndGlyphs" stroke="#2a2c35" stroke-width="0.35">2013</text>
<text x="223.6" y="735.2" font-size="12.2" fill="#2a2c35" textLength="21.8" lengthAdjust="spacingAndGlyphs" stroke="#2a2c35" stroke-width="0.35">2015</text>
<text x="321.1" y="735.2" font-size="12.2" fill="#2a2c35" textLength="21.8" lengthAdjust="spacingAndGlyphs" stroke="#2a2c35" stroke-width="0.35">2017</text>
<text x="419.6" y="735.2" font-size="12.2" fill="#2a2c35" textLength="21.8" lengthAdjust="spacingAndGlyphs" stroke="#2a2c35" stroke-width="0.35">2019</text>
<text x="517.1" y="735.2" font-size="12.2" fill="#2a2c35" textLength="21.8" lengthAdjust="spacingAndGlyphs" stroke="#2a2c35" stroke-width="0.35">2021</text>
<text x="614.6" y="735.2" font-size="12.2" fill="#2a2c35" textLength="21.8" lengthAdjust="spacingAndGlyphs" stroke="#2a2c35" stroke-width="0.35">2023</text>
<text x="713.0" y="735.2" font-size="12.2" fill="#2a2c35" textLength="21.8" lengthAdjust="spacingAndGlyphs" stroke="#2a2c35" stroke-width="0.35">2025</text>
<text x="810.5" y="735.2" font-size="12.2" fill="#2a2c35" textLength="21.8" lengthAdjust="spacingAndGlyphs" stroke="#2a2c35" stroke-width="0.35">2027</text>
<text x="908.0" y="735.2" font-size="12.2" fill="#2a2c35" textLength="21.8" lengthAdjust="spacingAndGlyphs" stroke="#2a2c35" stroke-width="0.35">2029</text>
<text x="1006.5" y="735.2" font-size="12.2" fill="#2a2c35" textLength="21.8" lengthAdjust="spacingAndGlyphs" stroke="#2a2c35" stroke-width="0.35">2031</text>
<path d="M453.8 718h57v19.9a2 2 0 0 1-2 2h-53a2 2 0 0 1-2-2z" fill="#131722"/>
<text x="460.4" y="735.2" font-size="12.2" fill="#fff" textLength="43.4" lengthAdjust="spacingAndGlyphs" font-weight="700">27 Jan '20</text>
<rect x="1077.1" y="4.6" width="19.6" height="22.4" rx="3.6" fill="#d1dcff"/>
<path d="M1083.5 15v-1.6a1.8 1.8 0 0 1 1.8-1.8h4.4a1.8 1.8 0 0 1 1.8 1.8v1.6M1083.5 17.5v1.6a1.8 1.8 0 0 0 1.8 1.8h4.4a1.8 1.8 0 0 0 1.8-1.8v-1.6" stroke="#fff" stroke-width="1.2" fill="none"/>
<rect x="1103.6" y="2.6" width="36" height="22.8" rx="4" fill="#fff" stroke="#e3e5ed" stroke-width="1"/>
<text x="1106.4" y="17.9" font-size="12.2" fill="#2a2c35" textLength="17.6" lengthAdjust="spacingAndGlyphs">JPY</text>
<path d="M1132.2 13.4l2.2 2.3 2.2-2.3" stroke="#2a2c35" stroke-width="1.4" fill="none"/>
<polygon points="1116.7,731.8 1119.4,726.3 1125.8,726.3 1128.5,731.8 1125.8,737.3 1119.4,737.3" fill="none" stroke="#3f424e" stroke-width="1.3" stroke-linejoin="round"/>
<circle cx="1122.6" cy="731.8" r="1.75" fill="none" stroke="#3f424e" stroke-width="1.3"/>
</g>
</svg>
</body></html>
